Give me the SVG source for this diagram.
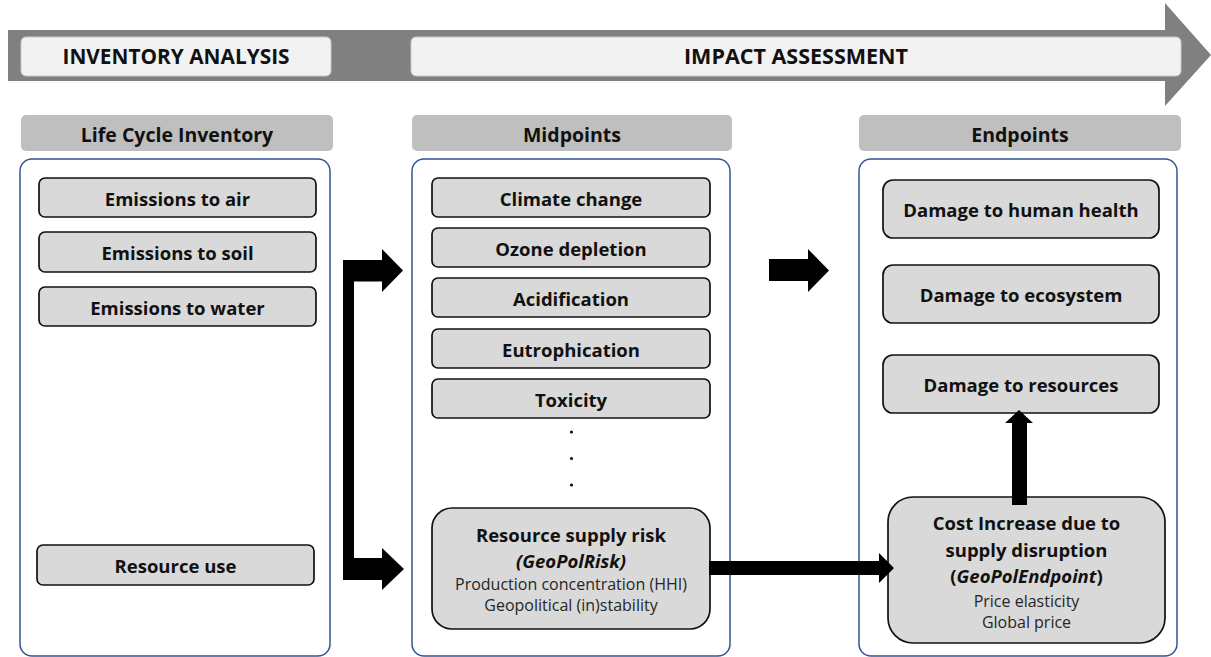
<svg xmlns="http://www.w3.org/2000/svg" width="1211" height="657" viewBox="0 0 1211 657">
<style>
  .t{font-family:"Open Sans","Liberation Sans",sans-serif;fill:#111;text-anchor:middle}
  .b{font-weight:bold;font-size:18.5px}
  .h{font-weight:bold;font-size:19.5px}
  .band{font-weight:bold;font-size:22px}
  .s{font-size:16px;fill:#262626}
  .item{fill:#d9d9d9;stroke:#111;stroke-width:1.7}
  .hdr{fill:#bfbfbf}
  .panel{fill:#fff;stroke:#2f5597;stroke-width:1.5}
  .bandbox{fill:#f2f2f2;stroke:#c8c8c8;stroke-width:1}
</style>
<rect width="1211" height="657" fill="#fff"/>

<g id="process-arrow">
  <polygon points="8,30 1165,30 1165,3 1211,55 1165,106 1165,81 8,81" fill="#808080"/>
  <rect class="bandbox" x="21" y="37" width="310" height="39" rx="5"/>
  <text class="t band" x="176" y="64" textLength="227" lengthAdjust="spacingAndGlyphs">INVENTORY ANALYSIS</text>
  <rect class="bandbox" x="411" y="37" width="770" height="39" rx="5"/>
  <text class="t band" x="796" y="64" textLength="224" lengthAdjust="spacingAndGlyphs">IMPACT ASSESSMENT</text>
</g>

<g id="inventory">
  <rect class="hdr" x="21" y="115" width="312" height="36" rx="5"/>
  <text class="t h" x="177" y="141.5">Life Cycle Inventory</text>
  <rect class="panel" x="20" y="159" width="310" height="497" rx="12"/>
  <g id="emissions-air"><rect class="item" x="39" y="178" width="277" height="39" rx="6"/><text class="t b" x="177.5" y="206">Emissions to air</text></g>
  <g id="emissions-soil"><rect class="item" x="39" y="232" width="277" height="40" rx="6"/><text class="t b" x="177.5" y="260">Emissions to soil</text></g>
  <g id="emissions-water"><rect class="item" x="39" y="287" width="277" height="39" rx="6"/><text class="t b" x="177.5" y="315">Emissions to water</text></g>
  <g id="resource-use"><rect class="item" x="37" y="545" width="277" height="40" rx="6"/><text class="t b" x="175.5" y="573">Resource use</text></g>
</g>

<g id="midpoints">
  <rect class="hdr" x="412" y="115" width="320" height="36" rx="5"/>
  <text class="t h" x="572" y="141.5">Midpoints</text>
  <rect class="panel" x="412" y="159" width="318" height="497" rx="12"/>
  <g id="climate"><rect class="item" x="432" y="178" width="278" height="39" rx="6"/><text class="t b" x="571" y="206">Climate change</text></g>
  <g id="ozone"><rect class="item" x="432" y="228" width="278" height="39" rx="6"/><text class="t b" x="571" y="256">Ozone depletion</text></g>
  <g id="acid"><rect class="item" x="432" y="278" width="278" height="39" rx="6"/><text class="t b" x="571" y="306">Acidification</text></g>
  <g id="eutro"><rect class="item" x="432" y="329" width="278" height="39" rx="6"/><text class="t b" x="571" y="357">Eutrophication</text></g>
  <g id="toxicity"><rect class="item" x="432" y="379" width="278" height="39" rx="6"/><text class="t b" x="571" y="407">Toxicity</text></g>
  <g id="dots" fill="#111"><circle cx="571.5" cy="432" r="1.6"/><circle cx="571.5" cy="458.5" r="1.6"/><circle cx="571.5" cy="485" r="1.6"/></g>
  <g id="supply-risk">
    <rect class="item" x="432" y="508" width="278" height="121" rx="20"/>
    <text class="t b" x="571" y="542">Resource supply risk</text>
    <text class="t b" x="571" y="568" font-style="italic">(GeoPolRisk)</text>
    <text class="t s" x="571" y="590">Production concentration (HHI)</text>
    <text class="t s" x="571" y="611">Geopolitical (in)stability</text>
  </g>
</g>

<g id="endpoints">
  <rect class="hdr" x="859" y="115" width="322" height="36" rx="5"/>
  <text class="t h" x="1020" y="141.5">Endpoints</text>
  <rect class="panel" x="859" y="159" width="318" height="497" rx="12"/>
  <g id="human-health"><rect class="item" x="883" y="180" width="276" height="58" rx="10"/><text class="t b" x="1021" y="216.5">Damage to human health</text></g>
  <g id="ecosystem"><rect class="item" x="883" y="265" width="276" height="58" rx="10"/><text class="t b" x="1021" y="301.5">Damage to ecosystem</text></g>
  <g id="resources"><rect class="item" x="883" y="355" width="276" height="58" rx="10"/><text class="t b" x="1021" y="391.5">Damage to resources</text></g>
  <g id="cost-increase">
    <rect class="item" x="888" y="497" width="277" height="146" rx="25"/>
    <text class="t b" x="1026.5" y="530">Cost Increase due to</text>
    <text class="t b" x="1026.5" y="557">supply disruption</text>
    <text class="t b" x="1026.5" y="583">(<tspan font-style="italic">GeoPolEndpoint</tspan>)</text>
    <text class="t s" x="1026.5" y="607">Price elasticity</text>
    <text class="t s" x="1026.5" y="628">Global price</text>
  </g>
</g>

<g id="connectors" fill="#000">
  <path d="M343,260 L382,260 L382,249 L403,270.5 L382,292 L382,281.5 L354,281.5 L354,558 L382,558 L382,548 L404,569 L382,590 L382,580 L343,580 Z"/>
  <path d="M769,259 L808,259 L808,249 L829,270.5 L808,292 L808,281 L769,281 Z"/>
  <path d="M709,561 L879,561 L879,553 L894,568 L879,583 L879,575 L709,575 Z"/>
  <path d="M1012,505 L1012,423 L1005,423 L1019,410 L1033,423 L1027,423 L1027,505 Z"/>
</g>
</svg>
